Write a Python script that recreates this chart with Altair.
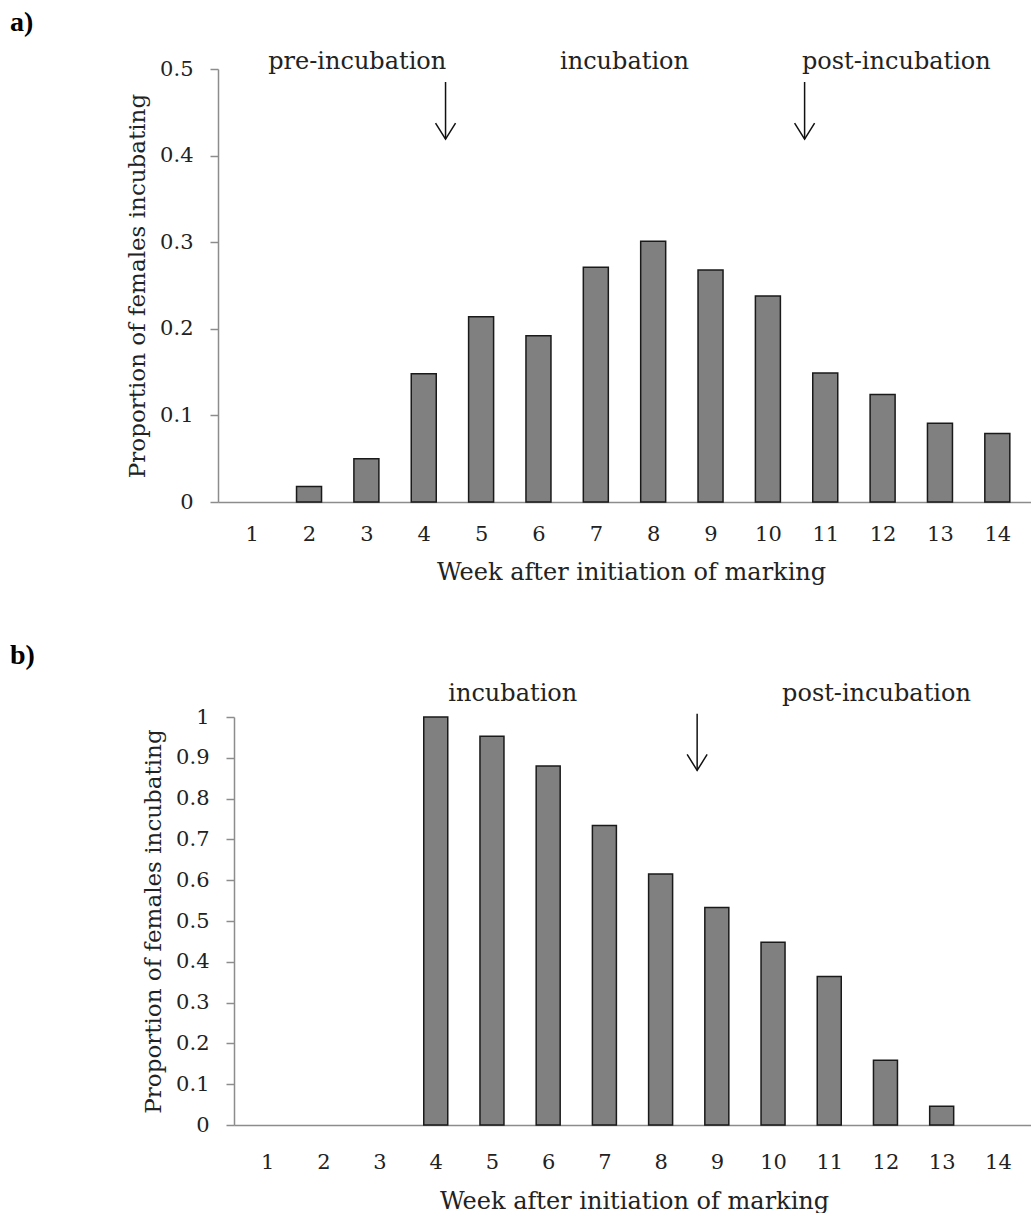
import altair as alt
import pandas as pd

# ---------------- data ----------------
weeks = list(range(1, 15))
prop_a = [0.0, 0.018, 0.050, 0.148, 0.214, 0.192, 0.271, 0.301, 0.268, 0.238, 0.149, 0.124, 0.091, 0.079]
prop_b = [0.0, 0.0, 0.0, 1.0, 0.953, 0.880, 0.734, 0.615, 0.533, 0.448, 0.364, 0.159, 0.046, 0.0]

y_ticks_a = [0, 0.1, 0.2, 0.3, 0.4, 0.5]
y_ticks_b = [0, 0.1, 0.2, 0.3, 0.4, 0.5, 0.6, 0.7, 0.8, 0.9, 1.0]

phase_a_labels = ["pre-incubation", "incubation", "post-incubation"]
phase_a_week = [2.84, 7.5, 12.24]
phase_a_y = [0.5, 0.5, 0.5]
arrow_a_week = [4.38, 10.64]
arrow_a_top = [0.485, 0.485]
arrow_a_tip = [0.419, 0.419]

phase_b_labels = ["incubation", "post-incubation"]
phase_b_week = [5.37, 11.84]
phase_b_y = [1.04, 1.04]
arrow_b_week = [8.65]
arrow_b_top = [1.008]
arrow_b_tip = [0.869]

X_TITLE = "Week after initiation of marking"
Y_TITLE = "Proportion of females incubating"
SERIF = "DejaVu Serif"
TEXT_COLOR = "#222222"
AXIS_GRAY = "#8c8c8c"
ARROW_HEAD = "M -0.625 -1 L 0 0 L 0.625 -1"


def panel(props, y_dom, y_ticks, width, height, x_range, y_offset, bar_size,
          labels, label_week, label_y, arrow_week, arrow_top, arrow_tip,
          tag, tag_dx, tag_dy, x_label_pad, x_title_y, x_title_x):
    df = pd.DataFrame({"week": weeks, "prop": props})
    xscale = alt.Scale(domain=[0.5, 14.5], range=x_range, nice=False, zero=False)
    yscale = alt.Scale(domain=y_dom, nice=False, zero=True)

    x_axis = alt.Axis(values=weeks, format="d", ticks=False, tickSize=0, grid=False,
                      domainColor=AXIS_GRAY, domainWidth=1.5,
                      labelFont=SERIF, labelFontSize=21, labelColor=TEXT_COLOR,
                      labelBaseline="alphabetic", labelPadding=x_label_pad,
                      title=X_TITLE, titleFont=SERIF, titleFontSize=24,
                      titleFontWeight="normal", titleColor=TEXT_COLOR,
                      titleBaseline="bottom", titleY=x_title_y, titleX=x_title_x,
                      titleAlign="center")
    y_axis = alt.Axis(values=y_ticks, format=".1~f", grid=False, offset=y_offset,
                      domainColor=AXIS_GRAY, domainWidth=1.5,
                      tickColor=AXIS_GRAY, tickWidth=1.5, tickSize=8,
                      labelFont=SERIF, labelFontSize=21, labelColor=TEXT_COLOR,
                      labelPadding=17,
                      title=Y_TITLE, titleFont=SERIF, titleFontSize=23,
                      titleFontWeight="normal", titleColor=TEXT_COLOR,
                      titleBaseline="middle", titleX=-81, titleY=height / 2,
                      titleAngle=270, titleAlign="center")

    X = lambda f: alt.X(f, scale=xscale, axis=x_axis)
    Y = lambda f: alt.Y(f, scale=yscale, axis=y_axis)

    bars = alt.Chart(df).transform_filter("datum.prop > 0").mark_bar(
        size=bar_size, color="#808080", stroke="#1a1a1a", strokeWidth=1.5
    ).encode(x=X("week:Q"), y=Y("prop:Q"))

    lab_df = pd.DataFrame({"label": labels, "week": label_week, "prop": label_y})
    texts = alt.Chart(lab_df).mark_text(
        font=SERIF, fontSize=24, color=TEXT_COLOR, align="center", baseline="alphabetic"
    ).encode(x=X("week:Q"), y=Y("prop:Q"), text="label:N")

    arr_df = pd.DataFrame({"week": arrow_week, "top": arrow_top, "tip": arrow_tip})
    shafts = alt.Chart(arr_df).mark_rule(color="#111111", strokeWidth=1.5).encode(
        x=X("week:Q"), y=Y("top:Q"), y2="tip:Q",
    )
    heads = alt.Chart(arr_df).mark_point(
        shape=ARROW_HEAD, size=1024, filled=False, color="#111111",
        strokeWidth=1.5, opacity=1
    ).encode(x=X("week:Q"), y=Y("tip:Q"))

    tag_df = pd.DataFrame({"tag": [tag]})
    tag_mark = alt.Chart(tag_df).mark_text(
        font="Liberation Serif", fontWeight="bold", fontSize=28, color="#000000",
        align="left", baseline="alphabetic"
    ).encode(x=alt.value(tag_dx), y=alt.value(tag_dy), text="tag:N")

    return alt.layer(bars, texts, shafts, heads, tag_mark).properties(width=width, height=height)


panel_a = panel(prop_a, [0, 0.5], y_ticks_a, 797, 433, [-16, 797], 16, 25,
                phase_a_labels, phase_a_week, phase_a_y,
                arrow_a_week, arrow_a_top, arrow_a_tip,
                "a)", -224, -38, 38, 82, 397)
panel_b = panel(prop_b, [0, 1], y_ticks_b, 797, 408, [0, 797], 0, 24,
                phase_b_labels, phase_b_week, phase_b_y,
                arrow_b_week, arrow_b_top, arrow_b_tip,
                "b)", -224, -53, 43, 88, 400)

chart = alt.vconcat(panel_a, panel_b, spacing=58).properties(
    padding={"left": 10, "top": 9, "right": -16, "bottom": 0},
    background="white",
).configure_view(stroke=None)

chart.save("out.html", embed_options={"renderer": "svg", "actions": False})
